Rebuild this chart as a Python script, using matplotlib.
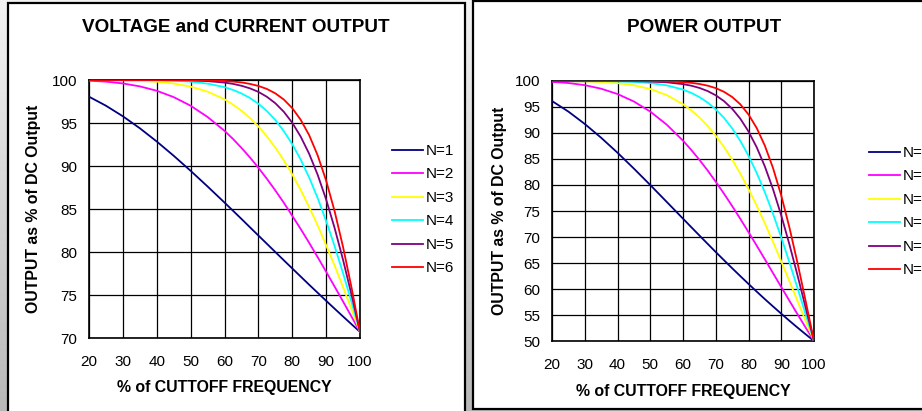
import numpy as np
import matplotlib
matplotlib.use("Agg")
import matplotlib.pyplot as plt
from matplotlib.patches import Rectangle

plt.rcParams['font.family'] = ['Liberation Sans', 'DejaVu Sans']

# % of cutoff frequency
freq = [20, 25, 30, 35, 40, 45, 50, 55, 60, 62.5, 65, 67.5, 70, 72.5, 75, 77.5,
        80, 82.5, 85, 87.5, 90, 92.5, 95, 97.5, 100]

# voltage / current output, % of DC output
volt_n1 = [98.06, 97.01, 95.78, 94.39, 92.85, 91.19, 89.44, 87.62, 85.75, 84.80, 83.85, 82.88, 81.92,
           80.96, 80.00, 79.04, 78.09, 77.14, 76.19, 75.26, 74.33, 73.41, 72.50, 71.60, 70.71]
volt_n2 = [99.92, 99.81, 99.60, 99.26, 98.75, 98.01, 97.01, 95.70, 94.09, 93.15, 92.11, 91.00, 89.80,
           88.52, 87.16, 85.73, 84.21, 82.67, 81.06, 79.40, 77.71, 75.98, 74.24, 72.48, 70.71]
volt_n3 = [100.0, 99.99, 99.96, 99.91, 99.80, 99.59, 99.23, 98.65, 97.76, 97.14, 96.43, 95.58, 94.60,
           93.45, 92.14, 90.66, 89.03, 87.20, 85.21, 83.08, 80.80, 78.42, 75.92, 73.34, 70.71]
volt_n4 = [100.0, 100.0, 100.0, 99.99, 99.97, 99.92, 99.81, 99.58, 99.17, 98.85, 98.44, 97.91, 97.24,
           96.39, 95.35, 94.06, 92.54, 90.74, 88.65, 86.27, 83.61, 80.69, 77.53, 74.19, 70.71]
volt_n5 = [100.0, 100.0, 100.0, 100.0, 99.99, 99.98, 99.95, 99.87, 99.70, 99.55, 99.33, 99.03, 98.62,
           98.05, 97.30, 96.31, 95.03, 93.41, 91.41, 88.98, 86.11, 82.80, 79.08, 75.03, 70.71]
volt_n6 = [100.0, 100.0, 100.0, 100.0, 100.0, 100.0, 99.99, 99.96, 99.89, 99.82, 99.72, 99.55, 99.31,
           98.96, 98.45, 97.73, 96.73, 95.37, 93.58, 91.24, 88.31, 84.75, 80.58, 75.86, 70.71]

# power output, % of DC output
pow_n1 = [96.15, 94.12, 91.74, 89.09, 86.21, 83.16, 80.00, 76.77, 73.53, 71.91, 70.30, 68.70, 67.11,
          65.55, 64.00, 62.48, 60.98, 59.50, 58.05, 56.64, 55.25, 53.89, 52.56, 51.27, 50.00]
pow_n2 = [99.84, 99.61, 99.20, 98.52, 97.50, 96.06, 94.12, 91.62, 88.53, 86.76, 84.85, 82.81, 80.63,
          78.35, 75.96, 73.49, 70.94, 68.34, 65.71, 63.04, 60.38, 57.73, 55.11, 52.53, 50.00]
pow_n3 = [99.99, 99.98, 99.93, 99.82, 99.59, 99.18, 98.46, 97.31, 95.54, 94.37, 92.99, 91.36, 89.48,
          87.32, 84.89, 82.19, 79.24, 76.03, 72.62, 69.02, 65.30, 61.49, 57.63, 53.79, 50.00]
pow_n4 = [100.0, 100.0, 100.0, 99.98, 99.93, 99.83, 99.61, 99.17, 98.35, 97.72, 96.91, 95.87, 94.55,
          92.91, 90.90, 88.48, 85.63, 82.33, 78.59, 74.43, 69.92, 65.11, 60.12, 55.05, 50.00]
pow_n5 = [100.0, 100.0, 100.0, 100.0, 99.99, 99.97, 99.90, 99.75, 99.40, 99.10, 98.67, 98.07, 97.25,
          96.14, 94.67, 92.75, 90.30, 87.26, 83.56, 79.17, 74.15, 68.56, 62.55, 56.30, 50.00]
pow_n6 = [100.0, 100.0, 100.0, 100.0, 100.0, 100.0, 99.98, 99.92, 99.78, 99.65, 99.43, 99.11, 98.63,
          97.93, 96.93, 95.52, 93.57, 90.96, 87.55, 83.24, 77.98, 71.82, 64.92, 57.54, 50.00]

labels = ['N=1', 'N=2', 'N=3', 'N=4', 'N=5', 'N=6']
colors = ['#000080', '#ff00ff', '#ffff00', '#00ffff', '#800080', '#ff0000']

x_ticks = [20, 30, 40, 50, 60, 70, 80, 90, 100]
volt_ticks = [70, 75, 80, 85, 90, 95, 100]
pow_ticks = [50, 55, 60, 65, 70, 75, 80, 85, 90, 95, 100]

W, H = 922, 411
fig = plt.figure(figsize=(W / 100, H / 100), dpi=100)

# grey gradient behind the two panels
bg = fig.add_axes([0, 0, 1, 1], zorder=-10)
grad = np.linspace(0.95, 0.72, 256).reshape(-1, 1)
bg.imshow(grad, aspect='auto', cmap='gray', vmin=0, vmax=1, extent=[0, 1, 0, 1])
bg.set_axis_off()

def px(x0, y0, x1, y1):
    # pixel box (top-left origin) -> figure fraction rect
    return [x0 / W, 1 - y1 / H, (x1 - x0) / W, (y1 - y0) / H]

# white panels with black border
for (x0, y0, x1, y1) in [(8, 3, 465, 420), (473, 1.5, 930, 409)]:
    r = px(x0, y0, x1, y1)
    fig.patches.append(Rectangle((r[0], r[1]), r[2], r[3], transform=fig.transFigure,
                                 facecolor='white', edgecolor='black', linewidth=1.6, zorder=-5))

def panel(rect, series, yticks, title, title_xy, ylab_x, xlab_y, leg_xy):
    ax = fig.add_axes(px(*rect))
    for ys, c, lab in zip(series, colors, labels):
        ax.plot(freq, ys, color=c, lw=1.3, label=lab, zorder=3)
    ax.set_xlim(20, 100)
    ax.set_ylim(yticks[0], yticks[-1])
    ax.set_xticks(x_ticks)
    ax.set_yticks(yticks)
    ax.grid(True, color='black', lw=0.9)
    for s in ax.spines.values():
        s.set_linewidth(1.2)
    ax.tick_params(length=0, labelsize=11)
    ax.tick_params(axis='x', pad=12)
    ax.tick_params(axis='y', pad=8.5)
    fig.text(title_xy[0] / W, 1 - title_xy[1] / H, title, ha='center', va='center',
             fontsize=13.6, fontweight='bold')
    fig.text(ylab_x / W, 1 - (rect[1] + rect[3]) / 2 / H, 'OUTPUT as % of DC Output',
             rotation=90, ha='center', va='center', fontsize=11.4, fontweight='bold')
    fig.text((rect[0] + rect[2]) / 2 / W, 1 - xlab_y / H, '% of CUTTOFF FREQUENCY',
             ha='center', va='center', fontsize=11.4, fontweight='bold')
    fig.legend(*ax.get_legend_handles_labels(), loc='upper left',
               bbox_to_anchor=(leg_xy[0] / W, 1 - leg_xy[1] / H), frameon=False,
               fontsize=11, handlelength=2.0, handletextpad=0.2, labelspacing=0.62,
               borderaxespad=0, borderpad=0)
    return ax

panel((89, 80, 360, 338), [volt_n1, volt_n2, volt_n3, volt_n4, volt_n5, volt_n6],
      volt_ticks, 'VOLTAGE and CURRENT OUTPUT', (236, 28), 34, 387, (392, 144))
panel((552, 81, 814, 341), [pow_n1, pow_n2, pow_n3, pow_n4, pow_n5, pow_n6],
      pow_ticks, 'POWER OUTPUT', (704, 27), 499, 391, (869, 146))

fig.savefig('out.png', dpi=100)
